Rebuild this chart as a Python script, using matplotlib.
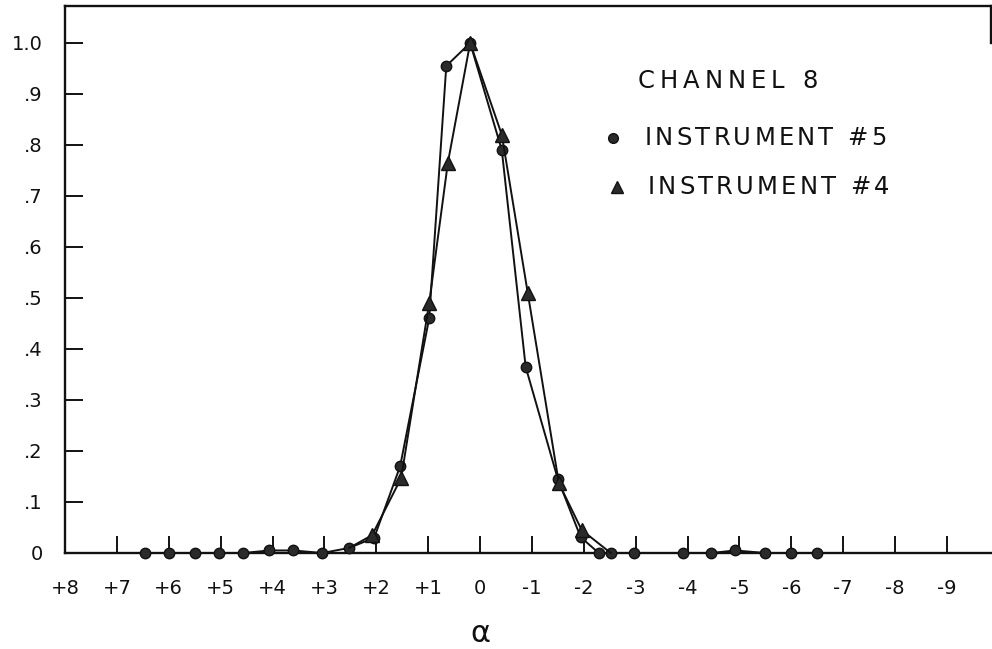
import matplotlib
matplotlib.use("Agg")
import matplotlib.pyplot as plt
from matplotlib.transforms import offset_copy

# Relative response vs alpha, channel 8
alpha_5 = [6.46, 6.0, 5.5, 5.04, 4.56, 4.06, 3.6, 3.04, 2.52, 2.04, 1.54, 0.98, 0.65, 0.19,
           -0.42, -0.88, -1.5, -1.94, -2.29, -2.52, -2.96, -3.92, -4.46, -4.92, -5.5, -6.0, -6.5]
resp_5 = [0.0, 0.0, 0.0, 0.0, 0.0, 0.005, 0.005, 0.0, 0.01, 0.03, 0.17, 0.46, 0.955, 1.0,
          0.79, 0.365, 0.145, 0.031, 0.0, 0.0, 0.0, 0.0, 0.0, 0.005, 0.0, 0.0, 0.0]

alpha_4 = [2.52, 2.08, 1.52, 0.98, 0.62, 0.19, -0.42, -0.92, -1.52, -1.96, -2.52]
resp_4 = [0.01, 0.035, 0.147, 0.49, 0.765, 1.0, 0.82, 0.51, 0.137, 0.045, 0.0]

x_ticks = list(range(8, -10, -1))
x_labels = ["+%d" % v if v > 0 else ("0" if v == 0 else "-%d" % -v) for v in x_ticks]
y_ticks = [0, 0.1, 0.2, 0.3, 0.4, 0.5, 0.6, 0.7, 0.8, 0.9, 1.0]
y_labels = ["0", ".1", ".2", ".3", ".4", ".5", ".6", ".7", ".8", ".9", "1.0"]

W, H = 992, 649
fig = plt.figure(figsize=(W / 100, H / 100), dpi=100)
ax = fig.add_axes([65 / W, (H - 553) / H, (991 - 65) / W, (553 - 6) / H])

ink = "#111111"
ax.plot(alpha_5, resp_5, color=ink, lw=1.4, marker="o", ms=7.5,
        mfc="#2a2a2a", mec=ink, mew=1.0, clip_on=False, zorder=4)
ax.plot(alpha_4, resp_4, color=ink, lw=1.4, marker="^", ms=10,
        mfc="#2a2a2a", mec=ink, mew=1.0, markevery=slice(1, -1),
        clip_on=False, zorder=5)

ax.set_xlim(7.96, -9.85)
ax.set_ylim(0, 1.0725)

ax.set_xticks(x_ticks)
ax.set_xticklabels(x_labels)
ax.set_yticks(y_ticks)
ax.set_yticklabels(y_labels)
ax.tick_params(axis="x", direction="in", length=12, width=1.4, pad=19,
               labelsize=14, colors=ink)
ax.tick_params(axis="y", direction="in", length=13, width=1.4, pad=16,
               labelsize=14, colors=ink)

for side in ["left", "bottom", "top", "right"]:
    ax.spines[side].set_linewidth(1.7)
    ax.spines[side].set_color(ink)
ax.spines["right"].set_bounds(1.0, 1.0725)

# alpha label sits under the zero tick, not the axes centre
ax.set_xlabel("α", fontsize=22, color=ink, va="center")
ax.xaxis.set_label_coords(ax.transLimits.transform((0, 0))[0], -0.148)


def spaced_text(x, y, s, size, track):
    """Write s in axes coords with extra letter spacing (in pixels)."""
    renderer = fig.canvas.get_renderer()
    dx = 0.0
    px_size = size * fig.dpi / 72.0
    for ch in s:
        if ch == " ":
            dx += 0.32 * px_size + track
            continue
        tr = offset_copy(ax.transAxes, fig=fig, x=dx, y=0, units="dots")
        t = ax.text(x, y, ch, transform=tr, fontsize=size, ha="left",
                    va="center", color=ink)
        dx += t.get_window_extent(renderer).width + track


spaced_text(0.618, 0.863, "CHANNEL 8", 17.5, 5)
ax.plot([0.592], [0.7587], transform=ax.transAxes, marker="o", ms=7,
        mfc="#2a2a2a", mec=ink, ls="none")
spaced_text(0.626, 0.7587, "INSTRUMENT #5", 17.5, 3.2)
ax.plot([0.596], [0.669], transform=ax.transAxes, marker="^", ms=9,
        mfc="#2a2a2a", mec=ink, ls="none")
spaced_text(0.629, 0.669, "INSTRUMENT #4", 17.5, 3.2)

fig.savefig("out.png", dpi=100)
